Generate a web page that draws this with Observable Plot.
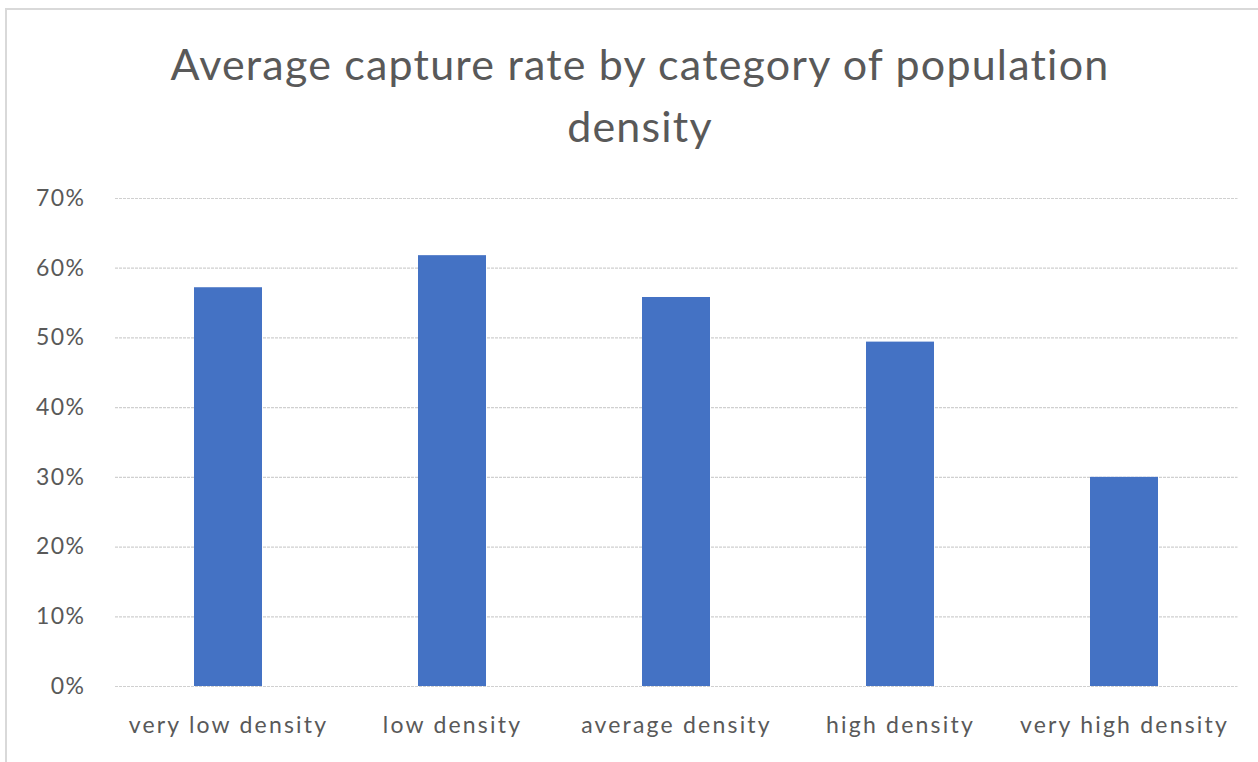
<!DOCTYPE html>
<html>
<head>
<meta charset="utf-8">
<script src="https://cdn.jsdelivr.net/npm/d3@7"></script>
<script src="https://cdn.jsdelivr.net/npm/@observablehq/plot@0.6"></script>
<style>
  html, body { margin: 0; padding: 0; background: #fff; }
  #frame { position: absolute; left: 5px; top: 8px; width: 1300px; height: 800px; border-left: 2px solid #d9d9d9; border-top: 2px solid #d9d9d9; }
  #title { position: absolute; left: 5px; top: 33px; width: 1270px; text-align: center; font-family: Lato, "Noto Sans", sans-serif; font-size: 43px; letter-spacing: 1.2px; line-height: 62px; color: #595959; }
  #chart { position: absolute; left: 0; top: 170px; }
  #chart svg text { font-family: Lato, "Noto Sans", sans-serif; }
  #chart svg g[aria-label="y-axis tick label"] text { letter-spacing: 1.5px; }
  #chart svg g[aria-label="x-axis tick label"] text { letter-spacing: 2.2px; }
</style>
</head>
<body>
<div id="frame"></div>
<div id="title">Average capture rate by category of population<br>density</div>
<div id="chart"></div>
<script>
const categories = ["very low density", "low density", "average density", "high density", "very high density"];
const captureRate = [0.572, 0.618, 0.558, 0.494, 0.300];
const yTicks = [0, 0.1, 0.2, 0.3, 0.4, 0.5, 0.6, 0.7];

const data = categories.map((c, i) => ({category: c, rate: captureRate[i]}));

const chart = Plot.plot({
  width: 1258,
  height: 592,
  marginTop: 28,
  marginBottom: 76,
  marginLeft: 115,
  marginRight: 20.5,
  style: { fontSize: "23px", color: "#595959", background: "transparent" },
  x: { domain: categories, paddingInner: 0.697, paddingOuter: 0.3485, label: null, tickSize: 0, tickPadding: 30 },
  y: { domain: [0, 0.7], ticks: yTicks, tickFormat: d => Math.round(d * 100) + "%", label: null, tickSize: 0, tickPadding: 30 },
  marks: [
    Plot.ruleY(yTicks, { stroke: "#d0d0d0", strokeWidth: 1.2, strokeDasharray: "3,1" }),
    Plot.barY(data, { x: "category", y: "rate", fill: "#4472c4" }),
    Plot.axisY({ ticks: yTicks, tickFormat: d => Math.round(d * 100) + "%", tickSize: 0, tickPadding: 30, fill: "#595959", fontSize: 23, label: null }),
    Plot.axisX({ tickSize: 0, tickPadding: 30, fill: "#595959", fontSize: 23, label: null })
  ]
});
document.getElementById("chart").appendChild(chart);
</script>
</body>
</html>
